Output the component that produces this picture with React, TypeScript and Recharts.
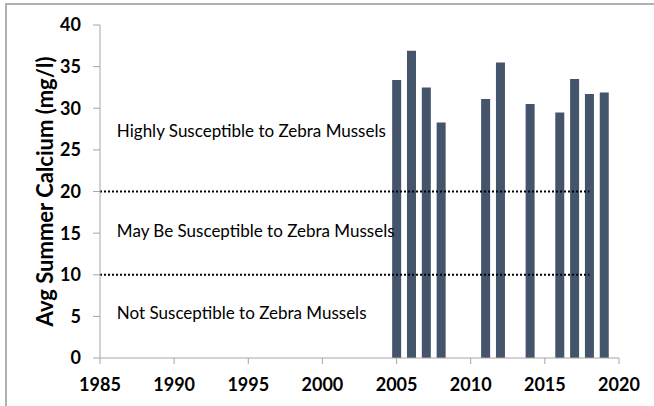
import React from 'react';
import {
  BarChart,
  Bar,
  XAxis,
  YAxis,
  ReferenceLine,
  ReferenceDot
} from 'recharts';

// Average summer calcium per sampled year
const years = [2005, 2006, 2007, 2008, 2011, 2012, 2014, 2016, 2017, 2018, 2019];
const calcium = [33.4, 36.9, 32.5, 28.3, 31.1, 35.5, 30.5, 29.5, 33.5, 31.7, 31.9];

const xTicks = [1985, 1990, 1995, 2000, 2005, 2010, 2015, 2020];
const yTicks = [0, 5, 10, 15, 20, 25, 30, 35, 40];

// susceptibility thresholds (mg/l) and where the dotted lines stop
const thresholds = [10, 20];
const thresholdEnd = 2018;

const zoneLabels = [
  'Highly Susceptible to Zebra Mussels',
  'May Be Susceptible to Zebra Mussels',
  'Not Susceptible to Zebra Mussels'
];
const zoneLabelY = [27.3, 15.3, 5.4];
const zoneLabelX = 1985.8;

const data = years.map((year, i) => ({ year, calcium: calcium[i] }));

const FONT = 'Lato, "Open Sans", sans-serif';
const AXIS_GRAY = '#a6a6a6';
const BAR_COLOR = '#44546a';

const tickStyle = { fill: '#000', fontSize: 18, fontWeight: 700, fontFamily: FONT };

const App: React.FC = () => {
  return (
    <div
      style={{
        position: 'absolute',
        left: 0,
        top: 0,
        width: 654,
        height: 406,
        overflow: 'hidden',
        background: '#fff'
      }}
    >
      {/* chart frame, cut off on the right and bottom like the source */}
      <div
        style={{
          position: 'absolute',
          left: 5,
          top: 3,
          width: 660,
          height: 420,
          borderLeft: '2px solid #b0b0b0',
          borderTop: '2px solid #b0b0b0'
        }}
      />
      <BarChart
        width={654}
        height={406}
        data={data}
        margin={{ top: 25, right: 35, left: 0, bottom: 0 }}
        style={{ position: 'absolute', left: 0, top: 0 }}
      >
        <XAxis
          dataKey="year"
          type="number"
          domain={[1985, 2020]}
          ticks={xTicks}
          allowDataOverflow
          tick={tickStyle}
          tickSize={6}
          tickMargin={14}
          axisLine={{ stroke: AXIS_GRAY }}
          tickLine={{ stroke: AXIS_GRAY }}
          height={48}
        />
        <YAxis
          type="number"
          domain={[0, 40]}
          ticks={yTicks}
          width={100}
          tick={tickStyle}
          tickSize={7}
          tickMargin={12}
          axisLine={{ stroke: AXIS_GRAY }}
          tickLine={{ stroke: AXIS_GRAY }}
          label={{
            value: 'Avg Summer Calcium (mg/l)',
            angle: -90,
            position: 'insideLeft',
            offset: 45,
            style: {
              fill: '#000',
              fontSize: 22,
              fontWeight: 700,
              fontFamily: FONT,
              textAnchor: 'middle'
            }
          }}
        />
        <Bar
          dataKey="calcium"
          fill={BAR_COLOR}
          barSize={9}
          isAnimationActive={false}
        />
        {thresholds.map((t) => (
          <ReferenceLine
            key={t}
            segment={[
              { x: 1985, y: t },
              { x: thresholdEnd, y: t }
            ]}
            stroke="#000"
            strokeWidth={2}
            strokeDasharray="2 2"
            ifOverflow="visible"
          />
        ))}
        {zoneLabels.map((text, i) => (
          <ReferenceDot
            key={text}
            x={zoneLabelX}
            y={zoneLabelY[i]}
            r={0}
            fill="none"
            stroke="none"
            ifOverflow="visible"
            label={{
              value: text,
              position: 'right',
              offset: 5,
              style: { fill: '#000', fontSize: 17, fontFamily: FONT }
            }}
          />
        ))}
      </BarChart>
    </div>
  );
};

export default App;
